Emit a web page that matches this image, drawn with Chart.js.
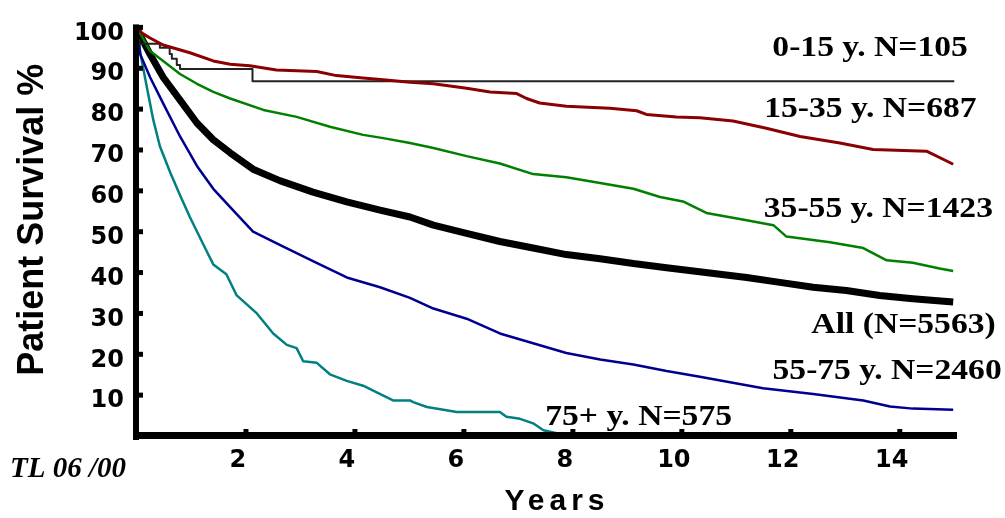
<!DOCTYPE html>
<html>
<head>
<meta charset="utf-8">
<script src="https://cdn.jsdelivr.net/npm/chart.js@4.4.1/dist/chart.umd.min.js"></script>
<style>
  html, body { margin: 0; padding: 0; background: #fff; }
  #wrap { width: 1005px; height: 518px; }
</style>
</head>
<body>
<div id="wrap"><canvas id="survival" width="1005" height="518"></canvas></div>
<script>
// Kaplan-Meier patient survival (%) by age group, years after start
const yearsChild = [0, 0.05, 0.42, 0.6, 0.64, 0.73, 0.79, 2.12, 13.52, 15.0];
const survChild  = [100, 96.9, 96.0, 95.0, 93.5, 92.3, 90.8, 89.8, 86.8, 86.8];

const yearsYoung = [0, 0.09, 0.24, 0.48, 0.97, 1.40, 1.71, 2.07, 2.56, 3.30, 3.66, 4.15, 4.52, 5.01, 5.44, 6.05, 6.48, 6.97, 7.15, 7.39, 7.88, 8.68, 9.17, 9.35, 9.90, 10.33, 10.94, 11.55, 12.17, 12.90, 13.51, 14.49, 14.86, 14.98];
const survYoung  = [100, 98.6, 97.4, 95.7, 93.8, 91.8, 91.0, 90.6, 89.6, 89.2, 88.2, 87.6, 87.2, 86.6, 86.2, 85.1, 84.2, 83.8, 82.6, 81.5, 80.7, 80.2, 79.6, 78.7, 78.1, 77.9, 77.1, 75.3, 73.3, 71.7, 70.1, 69.7, 67.3, 66.5];

const yearsMiddle = [0, 0.09, 0.24, 0.48, 0.79, 1.10, 1.40, 1.71, 2.32, 2.93, 3.54, 4.15, 4.52, 5.01, 5.44, 6.05, 6.66, 7.27, 7.88, 8.50, 9.11, 9.60, 10.02, 10.45, 11.19, 11.68, 11.92, 12.72, 13.33, 13.76, 14.24, 14.73, 14.98];
const survMiddle  = [100, 97.8, 94.2, 91.8, 88.6, 86.2, 84.2, 82.6, 79.8, 78.1, 75.7, 73.7, 72.9, 71.7, 70.5, 68.5, 66.7, 64.1, 63.3, 61.9, 60.5, 58.5, 57.4, 54.6, 52.8, 51.6, 48.8, 47.4, 46.0, 43.0, 42.4, 41.0, 40.4];

const yearsAll = [0, 0.02, 0.24, 0.48, 0.79, 1.10, 1.40, 1.71, 2.13, 2.62, 3.23, 3.85, 4.46, 5.01, 5.44, 6.05, 6.66, 7.27, 7.88, 8.50, 9.11, 9.72, 10.40, 11.19, 11.80, 12.41, 13.02, 13.63, 14.24, 14.98];
const survAll  = [100, 99.0, 93.4, 87.8, 82.2, 76.6, 72.5, 69.3, 65.3, 62.5, 59.7, 57.3, 55.3, 53.6, 51.6, 49.6, 47.6, 46.0, 44.4, 43.4, 42.2, 41.2, 40.1, 38.8, 37.6, 36.4, 35.6, 34.4, 33.6, 32.8];

const yearsOlder = [0, 0.06, 0.24, 0.48, 0.79, 1.10, 1.40, 1.71, 2.13, 2.62, 3.23, 3.85, 4.46, 5.01, 5.44, 6.05, 6.66, 7.27, 7.88, 8.50, 9.11, 9.72, 10.33, 11.49, 12.41, 13.33, 13.82, 14.24, 14.98];
const survOlder  = [100, 93.4, 87.8, 81.4, 73.3, 66.1, 60.5, 56.0, 50.0, 46.8, 42.8, 38.8, 36.4, 33.8, 31.2, 28.7, 25.1, 22.7, 20.3, 18.7, 17.5, 15.9, 14.5, 11.7, 10.3, 8.7, 7.2, 6.7, 6.4];

const yearsOldest = [0, 0.06, 0.18, 0.30, 0.42, 0.61, 0.79, 0.97, 1.22, 1.40, 1.64, 1.83, 2.20, 2.50, 2.75, 2.93, 3.05, 3.30, 3.54, 3.85, 4.15, 4.40, 4.70, 5.01, 5.07, 5.32, 5.87, 6.66, 6.78, 7.03, 7.27, 7.46, 7.82, 12.40];
const survOldest  = [100, 93.8, 85.4, 77.3, 70.9, 64.5, 58.9, 53.6, 46.8, 42.0, 39.6, 34.4, 30.0, 25.1, 22.3, 21.5, 18.3, 17.9, 15.1, 13.5, 12.3, 10.7, 8.7, 8.7, 8.3, 7.1, 5.9, 5.9, 4.7, 4.2, 3.1, 1.4, 0.3, 0.3];

const xTickValues = [2, 4, 6, 8, 10, 12, 14];
const yTickValues = [10, 20, 30, 40, 50, 60, 70, 80, 90, 100];

const groupNames = ['0-15 y. N=105', '15-35 y. N=687', '35-55 y. N=1423', 'All (N=5563)', '55-75 y. N=2460', '75+ y. N=575'];

const toPoints = (xs, ys) => xs.map((t, i) => ({ x: t, y: ys[i] }));

// where each group name sits: right edge (years) and baseline (%)
const labelSpots = [
  { t: 15.25, v: 93.0 },
  { t: 15.41, v: 78.1 },
  { t: 15.71, v: 53.5 },
  { t: 15.76, v: 25.3 },
  { t: 15.87, v: 14.0 },
  { t: 10.92, v: 2.65 }
];

// axes, tick marks, titles and curve names, painted over the lines
const frame = {
  id: 'frame',
  afterDatasetsDraw(chart) {
    const { ctx, chartArea: a, scales: { x, y } } = chart;
    ctx.save();
    ctx.fillStyle = '#000';
    ctx.fillRect(a.left - 4, a.top - 3, 6, a.bottom - a.top + 7);
    ctx.fillRect(a.left - 4, a.bottom - 4, a.right - a.left + 4, 7);
    yTickValues.forEach(v => ctx.fillRect(a.left + 1, y.getPixelForValue(v) - 2.5, 5, 5));
    xTickValues.forEach(v => ctx.fillRect(x.getPixelForValue(v) - 2.5, a.bottom - 7, 5, 4));

    ctx.textAlign = 'center';
    ctx.textBaseline = 'middle';
    ctx.font = 'bold 36px "Liberation Sans"';
    ctx.save();
    ctx.translate(33, (a.top + a.bottom) / 2 - 12);
    ctx.rotate(-Math.PI / 2);
    ctx.fillText('Patient Survival %', 0, 0);
    ctx.restore();

    ctx.save();
    ctx.font = 'bold 30px "Liberation Sans"';
    ctx.letterSpacing = '5px';
    ctx.fillText('Years', (a.left + a.right) / 2 + 10, 502);
    ctx.restore();

    ctx.textAlign = 'left';
    ctx.textBaseline = 'alphabetic';
    ctx.font = 'italic bold 29px "Liberation Serif"';
    ctx.fillText('TL 06 /00', 10, 477);

    ctx.textAlign = 'right';
    ctx.font = 'bold 30px "Liberation Serif"';
    groupNames.forEach((name, i) => {
      const s = labelSpots[i];
      ctx.save();
      ctx.translate(x.getPixelForValue(s.t), y.getPixelForValue(s.v));
      ctx.scale(1.12, 1);
      ctx.fillText(name, 0, 0);
      ctx.restore();
    });
    ctx.restore();
  }
};

const line = (data, color, width, extra) => Object.assign({
  data: data,
  borderColor: color,
  borderWidth: width,
  pointRadius: 0,
  tension: 0,
  fill: false,
  borderJoinStyle: 'round'
}, extra || {});

new Chart(document.getElementById('survival'), {
  type: 'line',
  data: {
    datasets: [
      line(toPoints(yearsYoung, survYoung), '#8b0000', 3),
      line(toPoints(yearsChild, survChild), '#222222', 2, { stepped: 'after' }),
      line(toPoints(yearsMiddle, survMiddle), '#008000', 2.5),
      line(toPoints(yearsAll, survAll), '#000000', 7),
      line(toPoints(yearsOlder, survOlder), '#000090', 2.5),
      line(toPoints(yearsOldest, survOldest), '#008080', 2.5)
    ]
  },
  options: {
    responsive: false,
    animation: false,
    devicePixelRatio: 1,
    layout: { padding: { top: 21, right: 48, left: 0, bottom: 0 } },
    plugins: { legend: { display: false }, tooltip: { enabled: false } },
    scales: {
      x: {
        type: 'linear',
        min: 0,
        max: 15.05,
        grid: { display: false, drawTicks: false },
        border: { display: false },
        afterBuildTicks: s => { s.ticks = xTickValues.map(v => ({ value: v })); },
        afterFit: s => { s.height = 82; },
        ticks: {
          color: '#000',
          padding: 10,
          labelOffset: -8,
          maxRotation: 0,
          font: { family: '"DejaVu Sans"', weight: 'bold', size: 24 }
        }
      },
      y: {
        min: 0,
        max: 100,
        grid: { display: false, drawTicks: false },
        border: { display: false },
        afterBuildTicks: s => { s.ticks = yTickValues.map(v => ({ value: v })); },
        afterFit: s => { s.width = 137; },
        ticks: {
          color: '#000',
          padding: 13,
          labelOffset: 6,
          font: { family: '"DejaVu Sans"', weight: 'bold', size: 24 }
        }
      }
    }
  },
  plugins: [frame]
});
</script>
</body>
</html>
